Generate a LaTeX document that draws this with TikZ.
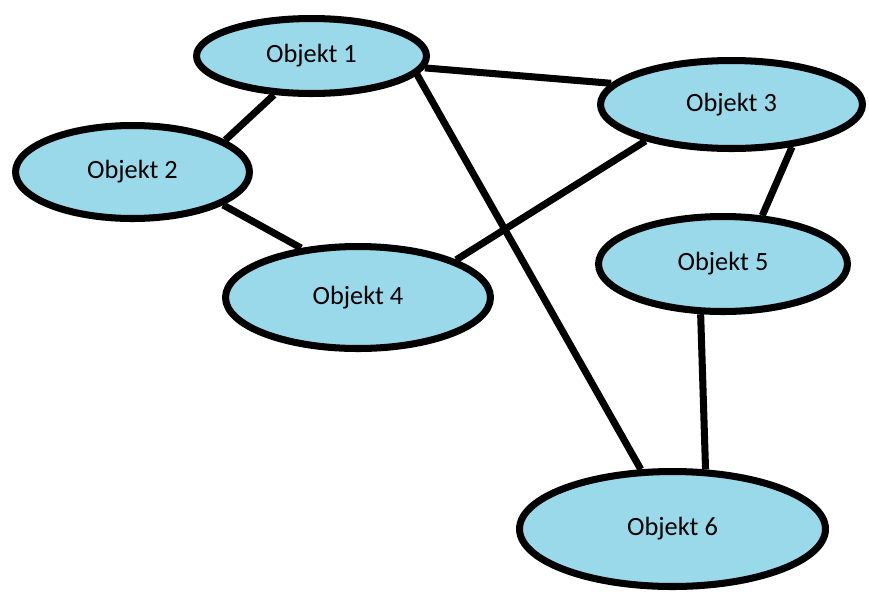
\documentclass[tikz,border=0pt]{standalone}
\usepackage{fontspec}
\setmainfont{Carlito}
\usepackage{tikz}
\usetikzlibrary{shapes.geometric, positioning}
\definecolor{paintblue}{RGB}{153,217,234}

\begin{document}
\begin{tikzpicture}[x=0.02cm, y=-0.02cm,
		objekt/.style={ellipse, draw=black, fill=paintblue, line width=4pt, inner sep=0pt, font=\fontsize{15}{17}\selectfont},
		link/.style={line width=4pt}]
				\useasboundingbox (0,0) rectangle (869,596);
				
				\node [objekt, minimum width=4.6cm, minimum height=1.5cm] (obj1) at (311.5,56) {Objekt 1};
				\node [objekt, minimum width=4.68cm, minimum height=1.86cm] (obj2) at (132.5,172) {Objekt 2};
				\node [objekt, minimum width=5.24cm, minimum height=1.76cm] (obj3) at (731.5,104.5) {Objekt 3};
				\node [objekt, minimum width=5.3cm, minimum height=2.04cm] (obj4) at (358,297.5) {Objekt 4};
				\node [objekt, minimum width=4.98cm, minimum height=1.9cm] (obj5) at (723,264) {Objekt 5};
				\node [objekt, minimum width=6.12cm, minimum height=2.3cm] (obj6) at (672.5,529) {Objekt 6};
				
				\draw [link] (obj1.-6) -- (obj3.170);
				\draw [link] (obj1.-134) -- (obj2.19);
				\draw [link] (obj2.-20) -- (obj4.139);
				\draw [link] (obj4.21) -- (obj3.-157);
				\draw [link] (obj1.-10) -- (obj6.118);
				\draw [link] (obj3.-35) -- (obj5.51);
				\draw [link] (obj5.-114) -- (obj6.61);
				\end{tikzpicture}
\end{document}
